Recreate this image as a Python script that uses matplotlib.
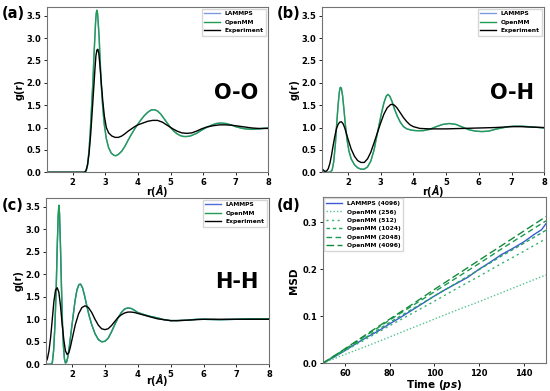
import matplotlib
matplotlib.use("Agg")
import matplotlib.pyplot as plt

plt.rcParams['font.family'] = ['DejaVu Sans']
plt.rcParams['font.weight'] = 'bold'
plt.rcParams['mathtext.fontset'] = 'custom'
plt.rcParams['mathtext.it'] = 'DejaVu Sans:italic:bold'
plt.rcParams['mathtext.rm'] = 'DejaVu Sans:bold'

# ---- g(r) data ----
# O-O
r_oo_sim = [1.2, 2.3, 2.38, 2.42, 2.46, 2.50, 2.54, 2.58, 2.62, 2.65, 2.68, 2.70, 2.72,
            2.74, 2.76, 2.78, 2.81, 2.84, 2.87, 2.92, 2.97, 3.03, 3.10, 3.18, 3.26,
            3.32, 3.4, 3.5, 3.6, 3.7, 3.8, 3.9, 4.0, 4.1, 4.2, 4.3, 4.4, 4.5, 4.6,
            4.7, 4.8, 4.9, 5.0, 5.1, 5.2, 5.3, 5.4, 5.5, 5.6, 5.8, 5.95, 6.1, 6.25,
            6.4, 6.55, 6.7, 6.85, 7.0, 7.15, 7.3, 7.5, 7.7, 7.85, 8.0]
g_oo_openmm = [0, 0, 0.0, 0.05, 0.2, 0.5, 0.95, 1.5, 2.05, 2.6, 3.05, 3.35, 3.55,
               3.62, 3.55, 3.35, 3.0, 2.5, 2.0, 1.45, 1.05, 0.75, 0.55, 0.43, 0.38,
               0.37, 0.40, 0.47, 0.58, 0.72, 0.85, 0.97, 1.08, 1.18, 1.27, 1.34, 1.39,
               1.40, 1.37, 1.30, 1.20, 1.10, 1.00, 0.92, 0.86, 0.82, 0.80, 0.80, 0.81,
               0.87, 0.94, 1.00, 1.05, 1.09, 1.10, 1.09, 1.06, 1.02, 0.99, 0.97, 0.96,
               0.97, 0.98, 0.99]
g_oo_lammps = g_oo_openmm  # LAMMPS curve lies under the OpenMM curve
r_oo_exp = [1.2, 2.35, 2.40, 2.45, 2.50, 2.55, 2.60, 2.64, 2.68, 2.71, 2.74, 2.77, 2.80,
            2.83, 2.87, 2.92, 2.97, 3.03, 3.10, 3.20, 3.30, 3.40, 3.50, 3.60, 3.70,
            3.80, 3.90, 4.0, 4.15, 4.3, 4.45, 4.6, 4.75, 4.9, 5.05, 5.2, 5.35, 5.5,
            5.65, 5.8, 5.95, 6.1, 6.3, 6.5, 6.7, 6.9, 7.1, 7.3, 7.5, 7.7, 8.0]
g_oo_exp = [0, 0, 0.03, 0.15, 0.42, 0.85, 1.4, 1.85, 2.3, 2.6, 2.73, 2.75, 2.65,
            2.42, 2.05, 1.6, 1.25, 1.0, 0.88, 0.81, 0.78, 0.78, 0.81, 0.86, 0.92,
            0.97, 1.02, 1.06, 1.10, 1.14, 1.16, 1.16, 1.12, 1.05, 0.98, 0.92, 0.88,
            0.87, 0.88, 0.92, 0.97, 1.01, 1.04, 1.06, 1.06, 1.05, 1.03, 1.01, 0.99,
            0.98, 0.98]

# O-H
r_oh_sim = [1.2, 1.3, 1.45, 1.52, 1.57, 1.62, 1.66, 1.70, 1.74, 1.77, 1.80, 1.84, 1.88,
            1.92, 1.97, 2.03, 2.10, 2.2, 2.3, 2.4, 2.5, 2.6, 2.7, 2.8, 2.88, 2.95,
            3.02, 3.1, 3.17, 3.22, 3.28, 3.35, 3.42, 3.5, 3.6, 3.7, 3.8, 3.95, 4.1,
            4.3, 4.5, 4.7, 4.9, 5.1, 5.3, 5.5, 5.7, 5.9, 6.1, 6.3, 6.5, 6.7, 6.9,
            7.1, 7.3, 7.5, 7.7, 8.0]
g_oh_openmm = [0.01, 0.0, 0.0, 0.05, 0.25, 0.65, 1.1, 1.5, 1.8, 1.9, 1.88, 1.7, 1.4,
               1.08, 0.75, 0.48, 0.3, 0.17, 0.1, 0.07, 0.07, 0.12, 0.25, 0.5, 0.8, 1.05,
               1.3, 1.55, 1.7, 1.74, 1.7, 1.58, 1.42, 1.27, 1.12, 1.02, 0.97, 0.94, 0.93,
               0.93, 0.96, 1.02, 1.07, 1.09, 1.07, 1.01, 0.95, 0.92, 0.91, 0.92, 0.96,
               0.99, 1.02, 1.03, 1.03, 1.02, 1.01, 0.99]
g_oh_lammps = g_oh_openmm
r_oh_exp = [1.2, 1.25, 1.3, 1.35, 1.4, 1.45, 1.5, 1.55, 1.6, 1.65, 1.7, 1.75, 1.8,
            1.85, 1.9, 1.95, 2.0, 2.1, 2.2, 2.3, 2.4, 2.5, 2.6, 2.7, 2.8, 2.9, 3.0,
            3.1, 3.2, 3.3, 3.35, 3.42, 3.5, 3.6, 3.7, 3.8, 3.9, 4.0, 4.2, 4.5, 5.0,
            5.5, 6.0, 6.5, 7.0, 7.3, 7.6, 8.0]
g_oh_exp = [0.09, 0.05, 0.02, 0.03, 0.08, 0.2, 0.38, 0.6, 0.8, 0.97, 1.07, 1.12, 1.13,
            1.09, 1.0, 0.88, 0.75, 0.52, 0.36, 0.26, 0.22, 0.22, 0.3, 0.45, 0.66, 0.88,
            1.1, 1.3, 1.44, 1.51, 1.52, 1.5, 1.44, 1.33, 1.22, 1.13, 1.06, 1.02, 0.98,
            0.97, 0.97, 0.98, 0.99, 1.0, 1.02, 1.02, 1.01, 1.0]

# H-H
r_hh_sim = [1.2, 1.35, 1.40, 1.44, 1.48, 1.52, 1.55, 1.58, 1.60, 1.62, 1.65, 1.68, 1.71,
            1.74, 1.77, 1.80, 1.83, 1.87, 1.92, 1.97, 2.03, 2.09, 2.15, 2.21, 2.26,
            2.32, 2.38, 2.45, 2.52, 2.6, 2.7, 2.8, 2.9, 3.0, 3.1, 3.2, 3.3, 3.4, 3.5,
            3.6, 3.7, 3.8, 3.9, 4.0, 4.2, 4.4, 4.6, 4.8, 5.0, 5.2, 5.5, 5.8, 6.0,
            6.5, 7.0, 7.5, 8.0]
g_hh_openmm = [0.0, 0.0, 0.03, 0.3, 0.85, 1.7, 2.6, 3.3, 3.53, 3.35, 2.6, 1.7, 0.9,
               0.4, 0.12, 0.03, 0.04, 0.15, 0.4, 0.7, 1.05, 1.4, 1.65, 1.77, 1.78, 1.7,
               1.53, 1.3, 1.08, 0.88, 0.68, 0.55, 0.5, 0.51, 0.58, 0.72, 0.88, 1.03,
               1.15, 1.23, 1.25, 1.24, 1.2, 1.15, 1.1, 1.06, 1.03, 0.99, 0.97, 0.97,
               0.98, 1.0, 1.0, 0.99, 1.0, 1.01, 1.01]
g_hh_lammps = g_hh_openmm
r_hh_exp = [1.2, 1.25, 1.3, 1.35, 1.4, 1.45, 1.5, 1.55, 1.6, 1.65, 1.7, 1.75, 1.8,
            1.85, 1.9, 1.95, 2.0, 2.1, 2.2, 2.3, 2.4, 2.5, 2.6, 2.7, 2.8, 2.9, 3.0,
            3.1, 3.2, 3.3, 3.4, 3.5, 3.6, 3.7, 3.8, 3.9, 4.0, 4.2, 4.4, 4.6, 4.8,
            5.0, 5.2, 5.5, 6.0, 6.5, 7.0, 7.5, 8.0]
g_hh_exp = [0.04, 0.12, 0.3, 0.6, 1.0, 1.4, 1.65, 1.70, 1.6, 1.3, 0.9, 0.55, 0.3,
            0.22, 0.25, 0.38, 0.55, 0.88, 1.12, 1.26, 1.30, 1.26, 1.15, 1.0, 0.87,
            0.79, 0.77, 0.79, 0.86, 0.95, 1.04, 1.1, 1.14, 1.16, 1.16, 1.15, 1.13,
            1.09, 1.05, 1.01, 0.99, 0.97, 0.97, 0.98, 1.0, 1.0, 1.0, 1.0, 1.0]

# ---- MSD data ----
t_msd = [50, 55, 60, 65, 70, 75, 80, 85, 90, 95, 100, 105, 110, 115, 120, 125,
         130, 135, 140, 145, 148, 150]
msd_lammps = [0.0, 0.013, 0.027, 0.042, 0.056, 0.069, 0.084, 0.098, 0.113, 0.128,
              0.143, 0.157, 0.170, 0.183, 0.200, 0.215, 0.231, 0.244, 0.258, 0.275,
              0.284, 0.297]
t_omm = [50, 60, 70, 80, 90, 100, 110, 120, 130, 140, 150]
msd_omm = {
    256: [0.0, 0.019, 0.037, 0.056, 0.075, 0.094, 0.113, 0.131, 0.150, 0.169, 0.188],
    512: [0.0, 0.027, 0.053, 0.080, 0.106, 0.132, 0.159, 0.185, 0.212, 0.238, 0.265],
    1024: [0.0, 0.029, 0.057, 0.087, 0.115, 0.143, 0.171, 0.199, 0.228, 0.255, 0.283],
    2048: [0.0, 0.030, 0.061, 0.092, 0.122, 0.152, 0.182, 0.212, 0.243, 0.273, 0.303],
    4096: [0.0, 0.031, 0.063, 0.094, 0.125, 0.157, 0.188, 0.219, 0.250, 0.281, 0.312],
}
omm_colors = {256: '#55c48e', 512: '#33b36d', 1024: '#22a45c', 2048: '#1c9850', 4096: '#138a3a'}
omm_styles = {256: (0, (1, 1.5)), 512: (0, (1.5, 2.5)), 1024: (0, (2.5, 2)),
              2048: (0, (4, 2.5)), 4096: (0, (5.5, 2.5))}

BLUE = '#4a6fd6'
GREEN = '#1f9e52'

fig = plt.figure(figsize=(5.5, 3.91), dpi=100)
W, H = 550, 391
def add_ax(x0, x1, ytop, ybot):
    return fig.add_axes([x0 / W, (H - ybot) / H, (x1 - x0) / W, (ybot - ytop) / H])

ax_a = add_ax(46.7, 268.3, 6.7, 172.3)
ax_b = add_ax(321.7, 544.3, 6.7, 172.3)
ax_c = add_ax(45.7, 269.3, 197.7, 364.3)
ax_d = add_ax(322.7, 546.0, 197.3, 363.3)

# (axes, r sim, lammps, openmm, r exp, exp, pair label, pair label y, lammps alpha, xlabel y)
rdf_panels = [
    (ax_a, r_oo_sim, g_oo_lammps, g_oo_openmm, r_oo_exp, g_oo_exp, 'O-O', 0.48, 0.7, -0.108),
    (ax_b, r_oh_sim, g_oh_lammps, g_oh_openmm, r_oh_exp, g_oh_exp, 'O-H', 0.48, 0.7, -0.108),
    (ax_c, r_hh_sim, g_hh_lammps, g_hh_openmm, r_hh_exp, g_hh_exp, 'H-H', 0.495, 1.0, -0.09),
]

for ax, rs, gl, go, re, ge, pair, ty, blue_alpha, xly in rdf_panels:
    ax.plot(rs, gl, color=BLUE, lw=1.0, alpha=blue_alpha, label='LAMMPS')
    ax.plot(rs, go, color=GREEN, lw=1.0, label='OpenMM')
    ax.plot(re, ge, color='black', lw=1.0, label='Experiment')
    ax.set_xlim(1.2, 8)
    ax.set_ylim(0, 3.7)
    ax.set_xticks([2, 3, 4, 5, 6, 7, 8])
    ax.set_yticks([0, 0.5, 1.0, 1.5, 2.0, 2.5, 3.0, 3.5])
    xl = ax.set_xlabel(r'r($\mathit{\AA}$)', fontsize=7, fontweight='bold')
    xl.set_va('center')
    ax.xaxis.set_label_coords(0.5, xly)
    ax.set_ylabel('g(r)', fontsize=7, fontweight='bold', labelpad=1)
    ax.text(0.853, ty, pair, transform=ax.transAxes, fontsize=15, fontweight='bold',
            ha='center', va='center')
    ax.legend(loc='upper right', fontsize=4.3, handlelength=2.6, borderaxespad=0.35,
              labelspacing=0.55, fancybox=False, edgecolor='0.8')

ax_d.plot(t_msd, msd_lammps, color='#3b5bd1', lw=1.0, label='LAMMPS (4096)')
for n in [256, 512, 1024, 2048, 4096]:
    ax_d.plot(t_omm, msd_omm[n], color=omm_colors[n], lw=1.0, ls=omm_styles[n],
              label=f'OpenMM ({n})')
ax_d.set_xlim(50, 150)
ax_d.set_ylim(0, 0.353)
ax_d.set_xticks([60, 80, 100, 120, 140])
ax_d.set_yticks([0.0, 0.1, 0.2, 0.3])
xl = ax_d.set_xlabel('Time ($ps$)', fontsize=7.5, fontweight='bold')
xl.set_va('center')
ax_d.xaxis.set_label_coords(0.5, -0.13)
ax_d.set_ylabel('MSD', fontsize=7.5, fontweight='bold', labelpad=2)
ax_d.legend(loc='upper left', fontsize=4.3, handlelength=2.6, borderaxespad=0.2,
            labelspacing=0.55, fancybox=False, edgecolor='0.8')

for ax in [ax_a, ax_b, ax_c, ax_d]:
    ax.tick_params(labelsize=6, length=2.5, width=0.6, pad=1.5)
    for lbl in ax.get_xticklabels() + ax.get_yticklabels():
        lbl.set_fontweight('bold')
    for sp in ax.spines.values():
        sp.set_color('0.45')
        sp.set_linewidth(0.8)

for tag, x, y in [('(a)', 2, 13), ('(b)', 277, 13), ('(c)', 2, 206), ('(d)', 277, 206)]:
    fig.text(x / W, 1 - y / H, tag, fontsize=10.5, fontweight='bold', ha='left', va='center')

fig.savefig('out.png', dpi=100)
